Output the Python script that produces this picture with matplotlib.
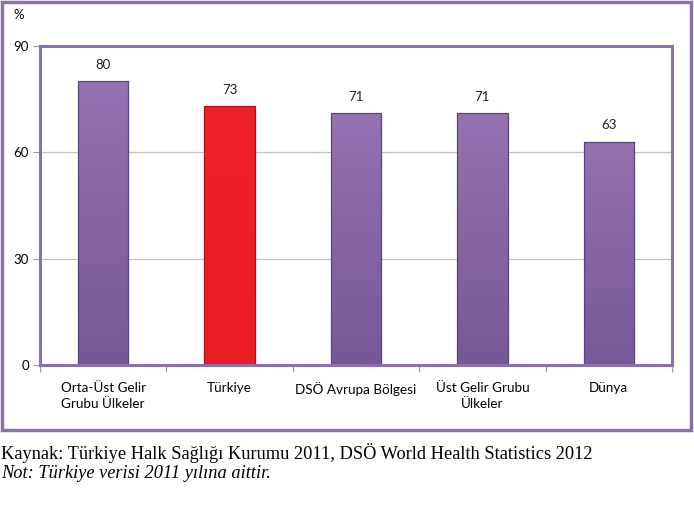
import matplotlib
matplotlib.use("Agg")
import matplotlib.pyplot as plt
import numpy as np
from matplotlib.patches import Rectangle
from matplotlib.colors import LinearSegmentedColormap

categories = ["Orta-Üst Gelir\nGrubu Ülkeler", "Türkiye", "DSÖ Avrupa Bölgesi",
              "Üst Gelir Grubu\nÜlkeler", "Dünya"]
values = [80, 73, 71, 71, 63]
top_colors = ["#9572B2", "#EF2028", "#9572B2", "#9572B2", "#9572B2"]
bottom_colors = ["#765898", "#EB1C24", "#765898", "#765898", "#765898"]
edge_colors = ["#5A4479", "#B01018", "#5A4479", "#5A4479", "#5A4479"]
yticks = [0, 30, 60, 90]

W, H = 694, 509
fig = plt.figure(figsize=(W / 100, H / 100), dpi=100)
fig.patch.set_facecolor("white")

purple = "#8A70B0"
# outer chart frame
fig.patches.append(Rectangle((1.5 / W, 1 - 430 / H), 689 / W, 428 / H,
                             transform=fig.transFigure, fill=False,
                             edgecolor=purple, lw=2.5))

left, right, top, bottom = 40, 672, 46, 365
ax = fig.add_axes([left / W, 1 - bottom / H, (right - left) / W, (bottom - top) / H])

x = range(len(categories))
bars = ax.bar(x, values, width=0.4, color="none", edgecolor=edge_colors, linewidth=0.9, zorder=4)
grad = np.linspace(1, 0, 100).reshape(-1, 1)
for b, tc, bc in zip(bars, top_colors, bottom_colors):
    cmap = LinearSegmentedColormap.from_list("g", [bc, tc])
    x0, w, h = b.get_x(), b.get_width(), b.get_height()
    im = ax.imshow(grad, cmap=cmap, aspect="auto", extent=[x0, x0 + w, 0, h],
                   zorder=3, vmin=0, vmax=1)
    im.set_clip_path(b)
for xi, v in zip(x, values):
    ax.text(xi, v + 3, str(v), ha="center", va="bottom", fontsize=9.5,
            family="Lato", color="#222222")

ax.set_xlim(-0.5, len(categories) - 0.5)
ax.set_ylim(0, 90)
ax.set_yticks(yticks)
ax.set_yticklabels([str(t) for t in yticks], family="Lato", fontsize=9.5)
ax.set_xticks([i - 0.5 for i in range(len(categories) + 1)], minor=False)
ax.set_xticklabels([])
ax.set_xticks(list(x), minor=True)
ax.set_xticklabels(categories, minor=True, family="Lato", fontsize=9.7, linespacing=1.45)
ax.tick_params(axis="x", which="minor", length=0, pad=12)
ax.tick_params(axis="x", which="major", length=5, color="#999999", direction="out")
ax.tick_params(axis="y", length=5, color="#999999", pad=3)

ax.yaxis.grid(True, color="#C0C0C0", lw=0.9, zorder=0)
for s in ax.spines.values():
    s.set_color(purple)
    s.set_linewidth(2.2)
    s.set_zorder(5)

fig.text(19 / W, 1 - 15 / H, "%", family="Lato", fontsize=9.5, ha="center", va="center")

fig.text(1 / W, 1 - 453 / H, "Kaynak: Türkiye Halk Sağlığı Kurumu 2011, DSÖ World Health Statistics 2012",
         family="Liberation Serif", fontsize=13.2, ha="left", va="center")
fig.text(1 / W, 1 - 474 / H, "Not: Türkiye verisi 2011 yılına aittir.",
         family="Liberation Serif", style="italic", fontsize=13.2, ha="left", va="center")

fig.savefig("out.png", dpi=100)
